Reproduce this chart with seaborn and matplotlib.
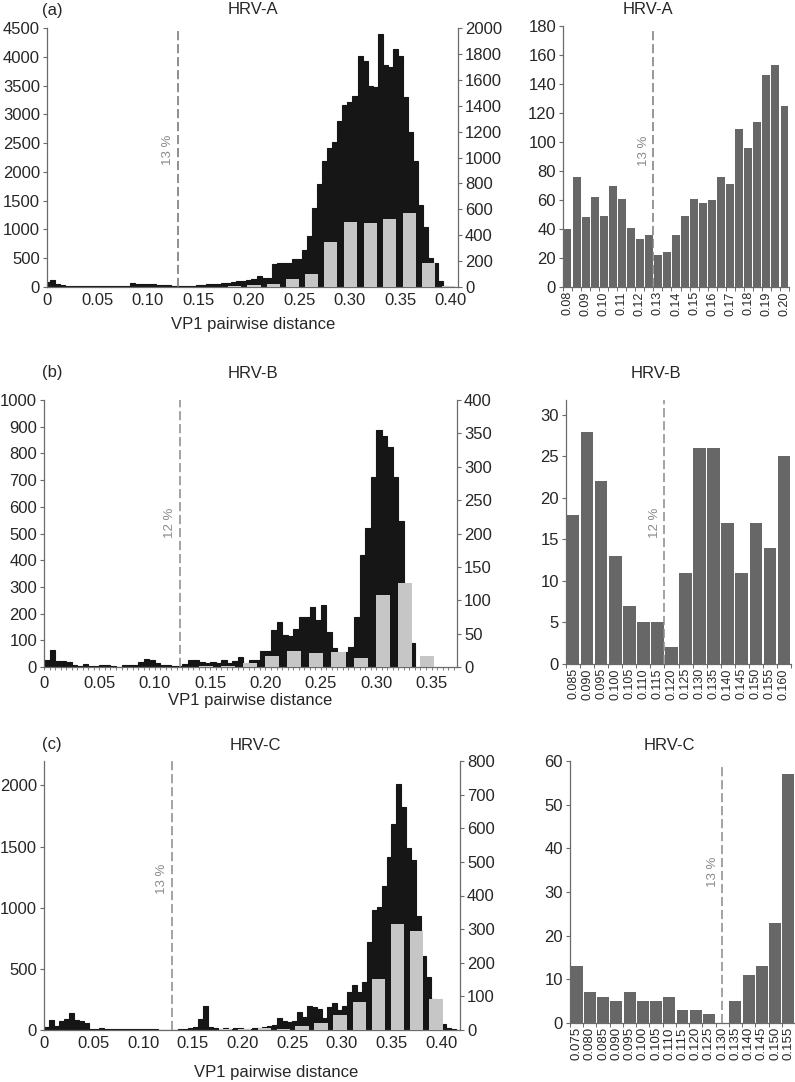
"""
VP1 pairwise distance histograms for HRV-A, HRV-B and HRV-C,
each with a zoomed bar chart around the genotype cut-off.
"""

import matplotlib
matplotlib.use("Agg")
import matplotlib.pyplot as plt
import seaborn as sns
import numpy as np

# ---------------------------------------------------------------- data
BIN = 0.005

# HRV-A: all pairs (black, left axis), bins of 0.005 centred on 0, 0.005, ...
a_black = [81, 128, 52, 29, 15, 14, 12, 15, 18, 22,
           18, 12, 10, 10, 12, 15, 22, 64, 46, 46,
           46, 58, 29, 29, 29, 25, 17, 17, 22, 26,
           30, 35, 45, 55, 58, 62, 70, 80, 100, 110,
           128, 140, 188, 165, 165, 394, 423, 412, 412, 481,
           481, 638, 893, 1369, 1781, 2192, 2419, 2517, 2883, 3161,
           3213, 3323, 4019, 3921, 3497, 3474, 4396, 3863, 3816, 4135,
           4008, 3306, 2691, 2192, 1421, 1038, 499, 420, 104, 20, 0]
a_first_centre = 0.0
# inter-genotype pairs (grey, right axis)
a_gray_x = [0.148, 0.167, 0.186, 0.205, 0.224, 0.243, 0.262, 0.281,
            0.301, 0.320, 0.339, 0.359, 0.378, 0.398]
a_gray = [2, 3, 6, 13, 21, 62, 103, 348, 500, 492, 526, 575, 186, 8]
a_cut = 0.13

# HRV-B
b_black = [25, 62, 24, 21, 17, 7, 4, 10, 5, 3,
           6, 6, 4, 0, 6, 8, 7, 20, 30, 25,
           15, 7, 6, 5, 4, 10, 27, 27, 19, 15,
           18, 15, 25, 15, 22, 37, 12, 25, 25, 61,
           61, 140, 168, 118, 115, 143, 186, 186, 226, 177,
           231, 132, 73, 52, 58, 75, 187, 420, 520, 713,
           888, 865, 825, 711, 545, 246, 90]
b_first_centre = 0.0025
b_gray_x = [0.146, 0.166, 0.186, 0.206, 0.226, 0.246, 0.266, 0.286,
            0.306, 0.326, 0.346]
b_gray = [2, 2, 6, 17, 24, 21, 23, 13, 108, 126, 16]
b_cut = 0.123

# HRV-C
c_black = [27, 80, 30, 72, 90, 135, 85, 75, 54, 10,
           6, 15, 12, 8, 10, 8, 6, 5, 5, 6,
           5, 5, 5, 4, 4, 3, 3, 5, 8, 16,
           27, 90, 197, 27, 14, 11, 16, 8, 16, 14,
           8, 10, 14, 20, 27, 30, 41, 95, 76, 68,
           76, 144, 103, 199, 190, 171, 95, 185, 218, 163,
           199, 307, 367, 307, 389, 716, 980, 1007, 1178, 1415,
           1687, 2008, 1823, 1491, 1393, 933, 607, 430, 250, 103,
           49, 14, 5, 0]
c_first_centre = 0.0025
c_gray_x = [0.183, 0.202, 0.222, 0.241, 0.260, 0.279, 0.298, 0.318,
            0.337, 0.356, 0.375, 0.395]
c_gray = [2, 3, 5, 3, 12, 22, 45, 84, 151, 314, 293, 91]
c_cut = 0.129

# zoomed windows around the cut-off
a_zoom_cats = ["0.080", "0.085", "0.090", "0.095", "0.100", "0.105", "0.110",
               "0.115", "0.120", "0.125", "0.130", "0.135", "0.140", "0.145",
               "0.150", "0.155", "0.160", "0.165", "0.170", "0.175", "0.180",
               "0.185", "0.190", "0.195", "0.200"]
a_zoom_labels = ["0.08", "", "0.09", "", "0.10", "", "0.11", "", "0.12", "",
                 "0.13", "", "0.14", "", "0.15", "", "0.16", "", "0.17", "",
                 "0.18", "", "0.19", "", "0.20"]
a_zoom_vals = [40, 76, 48, 62, 49, 70, 61, 41, 33, 36, 22, 24, 36, 49, 61,
               58, 60, 76, 71, 109, 96, 114, 146, 153, 125]

b_zoom_cats = ["0.085", "0.090", "0.095", "0.100", "0.105", "0.110", "0.115",
               "0.120", "0.125", "0.130", "0.135", "0.140", "0.145", "0.150",
               "0.155", "0.160"]
b_zoom_vals = [18, 28, 22, 13, 7, 5, 5, 2, 11, 26, 26, 17, 11, 17, 14, 25]

c_zoom_cats = ["0.075", "0.080", "0.085", "0.090", "0.095", "0.100", "0.105",
               "0.110", "0.115", "0.120", "0.125", "0.130", "0.135", "0.140",
               "0.145", "0.150", "0.155"]
c_zoom_vals = [13, 7, 6, 5, 7, 5, 5, 6, 3, 3, 2, 0, 5, 11, 13, 23, 57]

hist_xticks = [0, 0.05, 0.10, 0.15, 0.20, 0.25, 0.30, 0.35, 0.40]
hist_xlabels = ["0", "0.05", "0.10", "0.15", "0.20", "0.25", "0.30", "0.35", "0.40"]

# ---------------------------------------------------------------- style
BLACK = "#161616"
LIGHT = "#c6c6c6"
DARK = "#676767"
SPINE = "#6a6a6a"
CUTC = "#8a8a8a"
FS = 12

sns.set_theme(style="white")
plt.rcParams["font.family"] = ["Liberation Sans", "DejaVu Sans"]

W, H = 795, 1082
fig = plt.figure(figsize=(W / 100, H / 100), dpi=100)


def axes_px(x0, y0, x1, y1):
    return fig.add_axes([x0 / W, 1 - y1 / H, (x1 - x0) / W, (y1 - y0) / H])


def style_spines(ax, keep):
    for side, sp in ax.spines.items():
        sp.set_visible(side in keep)
        sp.set_color(SPINE)
        sp.set_linewidth(0.9)


def hist_panel(box, black, first_centre, gray_x, gray, gray_width, xmax,
               ylim_l, ystep_l, ylim_r, ystep_r, cut, cut_text, cut_y,
               cut_top, minor=False, cut_color=CUTC):
    ax = axes_px(*box)
    black_x = first_centre + BIN * np.arange(len(black))
    sns.barplot(x=black_x, y=black, native_scale=True, width=1.0,
                color=BLACK, saturation=1, linewidth=0.8, edgecolor=BLACK,
                errorbar=None, ax=ax)
    ax2 = ax.twinx()
    sns.barplot(x=gray_x, y=gray, native_scale=True, width=gray_width,
                color=LIGHT, saturation=1, linewidth=0, errorbar=None, ax=ax2)

    ax.set_xlim(0, xmax)
    ax.set_ylim(0, ylim_l)
    ax2.set_ylim(0, ylim_r)
    ax.set_yticks(np.arange(0, ylim_l + 1, ystep_l))
    ax2.set_yticks(np.arange(0, ylim_r + 1, ystep_r))
    keep = [i for i, t in enumerate(hist_xticks) if t <= xmax]
    ax.set_xticks([hist_xticks[i] for i in keep])
    ax.set_xticklabels([hist_xlabels[i] for i in keep])
    if minor:
        ax.set_xticks(np.arange(0, xmax, BIN), minor=True)
        ax.tick_params(axis="x", which="minor", length=2.5, width=0.6,
                       color=SPINE, bottom=True)
    ax.tick_params(axis="x", which="major", length=2.5 if minor else 0,
                   width=0.6, color=SPINE, pad=4, labelsize=FS,
                   bottom=True)
    ax.tick_params(axis="y", length=3, width=0.8, color=SPINE, pad=2,
                   labelsize=FS, left=True)
    ax2.tick_params(axis="y", length=3, width=0.8, color=SPINE, pad=2,
                    labelsize=FS, right=True)
    ax.set_xlabel("")
    ax.set_ylabel("")
    ax2.set_ylabel("")
    style_spines(ax, ("left", "bottom"))
    style_spines(ax2, ("right",))

    ax2.plot([cut, cut], [0, cut_top], color=cut_color, lw=1.1,
             linestyle=(0, (6, 2.5)), zorder=5)
    ax2.annotate(cut_text, xy=(cut, cut_y), xytext=(-10, 0),
                 textcoords="offset pixels", rotation=90, ha="center",
                 va="center", color=CUTC, fontsize=9.5)
    return ax


def zoom_panel(box, cats, vals, ylim, ystep, cut, cut_text, cut_y, cut_top,
               labels=None, tick_fs=9, width=0.9, cut_color=CUTC):
    ax = axes_px(*box)
    sns.barplot(x=cats, y=vals, order=cats, color=DARK, saturation=1,
                width=width, linewidth=0, errorbar=None, ax=ax)
    n = len(cats)
    ax.set_xlim(-0.5, n - 0.5)
    ax.set_ylim(0, ylim)
    ax.set_yticks(np.arange(0, ylim + 0.01, ystep))
    ax.set_xticks(range(n))
    ax.set_xticklabels(labels if labels is not None else cats,
                       rotation=90, fontsize=tick_fs)
    ax.set_xticks(np.arange(-0.5, n, 1.0), minor=True)
    ax.tick_params(axis="x", which="major", length=0, pad=3)
    ax.tick_params(axis="x", which="minor", length=3, width=0.7,
                   color=SPINE, bottom=True)
    ax.tick_params(axis="y", length=3, width=0.8, color=SPINE, pad=2,
                   labelsize=FS, left=True)
    ax.set_xlabel("")
    ax.set_ylabel("")
    style_spines(ax, ("left", "bottom"))
    ax.plot([cut, cut], [0, cut_top], color=cut_color, lw=1.1,
            linestyle=(0, (6, 2.5)), zorder=5)
    ax.annotate(cut_text, xy=(cut, cut_y), xytext=(-9, 0),
                textcoords="offset pixels", rotation=90, ha="center",
                va="center", color=CUTC, fontsize=9.5)
    return ax


# ---------------------------------------------------------------- panels
hist_panel((47, 28, 458, 287), a_black, a_first_centre, a_gray_x, a_gray,
           0.68, 0.407, 4500, 500, 2000, 200, a_cut, "13 %", 1060, 1985,
           cut_color="#707070")
zoom_panel((563, 26, 789, 287), a_zoom_cats, a_zoom_vals, 180, 20,
           9.5, "13 %", 94, 178, labels=a_zoom_labels, tick_fs=9,
           width=0.88, cut_color="#7a7a7a")

hist_panel((44, 400, 457, 667), b_black, b_first_centre, b_gray_x, b_gray,
           0.64, 0.373, 1000, 100, 400, 50, b_cut, "12 %", 216, 400,
           minor=True)
zoom_panel((566, 400, 791, 664), b_zoom_cats, b_zoom_vals, 31.8, 5,
           6.5, "12 %", 17, 31.8, tick_fs=9)

hist_panel((44, 761, 460, 1030), c_black, c_first_centre, c_gray_x, c_gray,
           0.71, 0.419, 2200, 500, 800, 100, c_cut, "13 %", 450, 800)
zoom_panel((570, 761, 795, 1023), c_zoom_cats, c_zoom_vals, 60, 10,
           11, "13 %", 34.7, 59, tick_fs=9.5)

# ---------------------------------------------------------------- text
def ftext(x, y, s, **kw):
    fig.text(x / W, 1 - y / H, s, ha="center", va="center", **kw)


ftext(52, 10, "(a)", fontsize=FS)
ftext(253, 10, "HRV-A", fontsize=FS)
ftext(648, 10, "HRV-A", fontsize=FS)
ftext(253, 325, "VP1 pairwise distance", fontsize=FS)

ftext(52, 373, "(b)", fontsize=FS)
ftext(253, 373, "HRV-B", fontsize=FS)
ftext(656, 373, "HRV-B", fontsize=FS)
ftext(250, 701, "VP1 pairwise distance", fontsize=FS)

ftext(52, 745, "(c)", fontsize=FS)
ftext(255, 745, "HRV-C", fontsize=FS)
ftext(669, 745, "HRV-C", fontsize=FS)
ftext(276, 1072, "VP1 pairwise distance", fontsize=FS)

fig.savefig("out.png", dpi=100, facecolor="white")
